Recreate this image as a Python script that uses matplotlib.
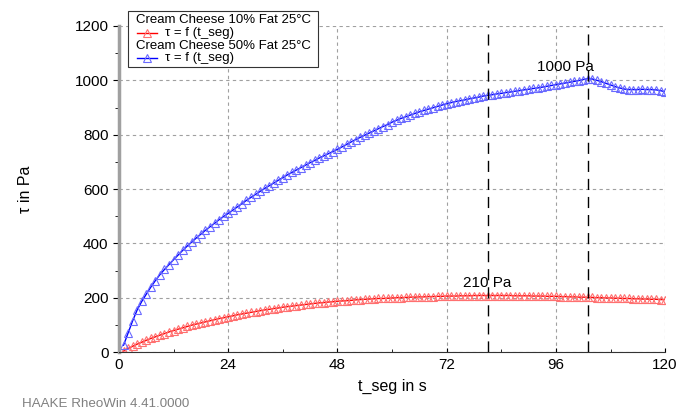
import matplotlib
matplotlib.use("Agg")
import matplotlib.pyplot as plt
from matplotlib.lines import Line2D
from matplotlib.patches import Rectangle

plt.rcParams['font.family'] = ['Liberation Sans', 'DejaVu Sans']

# time of each measuring point (s)
t_seg = list(range(1, 121))

# Cream Cheese 50% Fat 25°C  (tau in Pa)
tau_50 = [25, 70, 115, 155, 186, 213, 239, 263, 285, 304,
          322, 340, 357, 374, 390, 405, 420, 434, 448, 461,
          474, 487, 499, 510, 522, 534, 546, 558, 569, 580,
          591, 602, 612, 622, 632, 642, 652, 661, 670, 679,
          688, 697, 705, 714, 722, 730, 738, 746, 755, 764,
          773, 782, 790, 798, 806, 814, 822, 830, 837, 846,
          853, 860, 866, 872, 878, 884, 889, 894, 899, 904,
          909, 914, 918, 922, 925, 928, 932, 935, 938, 942,
          945, 947, 950, 952, 955, 957, 960, 962, 965, 967,
          970, 972, 975, 978, 981, 984, 987, 990, 993, 996,
          999, 1003, 1006, 1005, 1000, 995, 989, 983, 977, 972,
          968, 966, 966, 966, 967, 966, 966, 965, 962, 958]

# Cream Cheese 10% Fat 25°C  (tau in Pa)
tau_10 = [4, 13, 21, 29, 36, 43, 50, 56, 62, 68,
          74, 79, 84, 89, 94, 99, 103, 107, 111, 115,
          119, 123, 126, 130, 133, 137, 140, 143, 146, 149,
          152, 155, 157, 160, 162, 165, 167, 169, 171, 173,
          175, 177, 179, 181, 182, 184, 185, 187, 188, 189,
          190, 192, 193, 194, 195, 196, 197, 197, 198, 199,
          200, 200, 201, 202, 202, 203, 203, 204, 204, 205,
          205, 206, 206, 206, 207, 207, 207, 208, 208, 208,
          208, 208, 208, 208, 208, 208, 207, 207, 207, 207,
          206, 206, 206, 205, 205, 205, 204, 204, 203, 203,
          202, 202, 201, 201, 200, 200, 199, 199, 198, 198,
          197, 197, 196, 196, 195, 195, 194, 194, 193, 193]

marker_t = [81, 103]
notes = [(98.2, 1050, "1000 Pa"), (80.9, 254, "210 Pa")]
x_ticks = [0, 24, 48, 72, 96, 120]
y_ticks = [0, 200, 400, 600, 800, 1000, 1200]

fig = plt.figure(figsize=(6.78, 4.12), dpi=100)
ax = fig.add_axes([0.1755, 0.1456, 0.8055, 0.7913])

red_style = dict(color='#ff0000', lw=1.0, marker='^', ms=5.5,
                 mfc='none', mec='#ff7070', mew=0.8)
blue_style = dict(color='#0000ff', lw=1.0, marker='^', ms=5.5,
                  mfc='none', mec='#6a6aff', mew=0.8)

ax.plot(t_seg, tau_10, **red_style)
ax.plot(t_seg, tau_50, **blue_style)

for t in marker_t:
    ax.axvline(t, color='black', lw=1.0, ls=(0, (8, 5)))

for x, y, s in notes:
    ax.text(x, y, s, ha='center', va='center', fontsize=11)

ax.set_xlim(0, 120)
ax.set_ylim(0, 1200)
ax.set_xticks(x_ticks)
ax.set_yticks(y_ticks)
ax.set_xticks(range(12, 120, 24), minor=True)
ax.set_yticks(range(100, 1200, 200), minor=True)
ax.tick_params(axis='x', direction='in', length=3, labelsize=11, pad=4)
ax.tick_params(axis='y', direction='out', length=4, labelsize=11)
ax.tick_params(axis='x', which='minor', direction='in', length=2)
ax.tick_params(axis='y', which='minor', direction='out', length=3)
ax.grid(True, which='major', color='#a0a0a0', lw=0.8, ls=(0, (3, 3)))

ax.spines['top'].set_visible(False)
ax.spines['right'].set_visible(False)
ax.spines['left'].set_color('#a0a0a0')
ax.spines['left'].set_linewidth(2.5)
ax.spines['bottom'].set_color('#333333')

ax.set_xlabel("t_seg in s", fontsize=11.5, labelpad=5)
ax.set_ylabel("τ in Pa", fontsize=11.5, labelpad=30)

# legend box drawn by hand in figure pixels (rheowin style)
W, H = 678.0, 412.0
fig.add_artist(Rectangle((128 / W, 1 - 67 / H), 190 / W, 56 / H,
                         transform=fig.transFigure, fill=True,
                         fc='white', ec='#333333', lw=0.8, zorder=5))
entries = [("Cream Cheese 10% Fat 25°C", red_style, 20, 33),
           ("Cream Cheese 50% Fat 25°C", blue_style, 46, 58)]
for title, style, y_head, y_line in entries:
    fig.text(136 / W, 1 - y_head / H, title, fontsize=9.5,
             va='center', ha='left', zorder=6)
    fig.add_artist(Line2D([137 / W, 147 / W, 157 / W], [1 - y_line / H] * 3,
                          transform=fig.transFigure, zorder=6,
                          markevery=[1], **style))
    fig.text(165 / W, 1 - y_line / H, "τ = f (t_seg)", fontsize=9.5,
             va='center', ha='left', zorder=6)

fig.text(22 / W, 1 - 404 / H, "HAAKE RheoWin 4.41.0000", fontsize=9.6,
         color='#808080', va='center', ha='left')

fig.savefig("out.png", dpi=100)
